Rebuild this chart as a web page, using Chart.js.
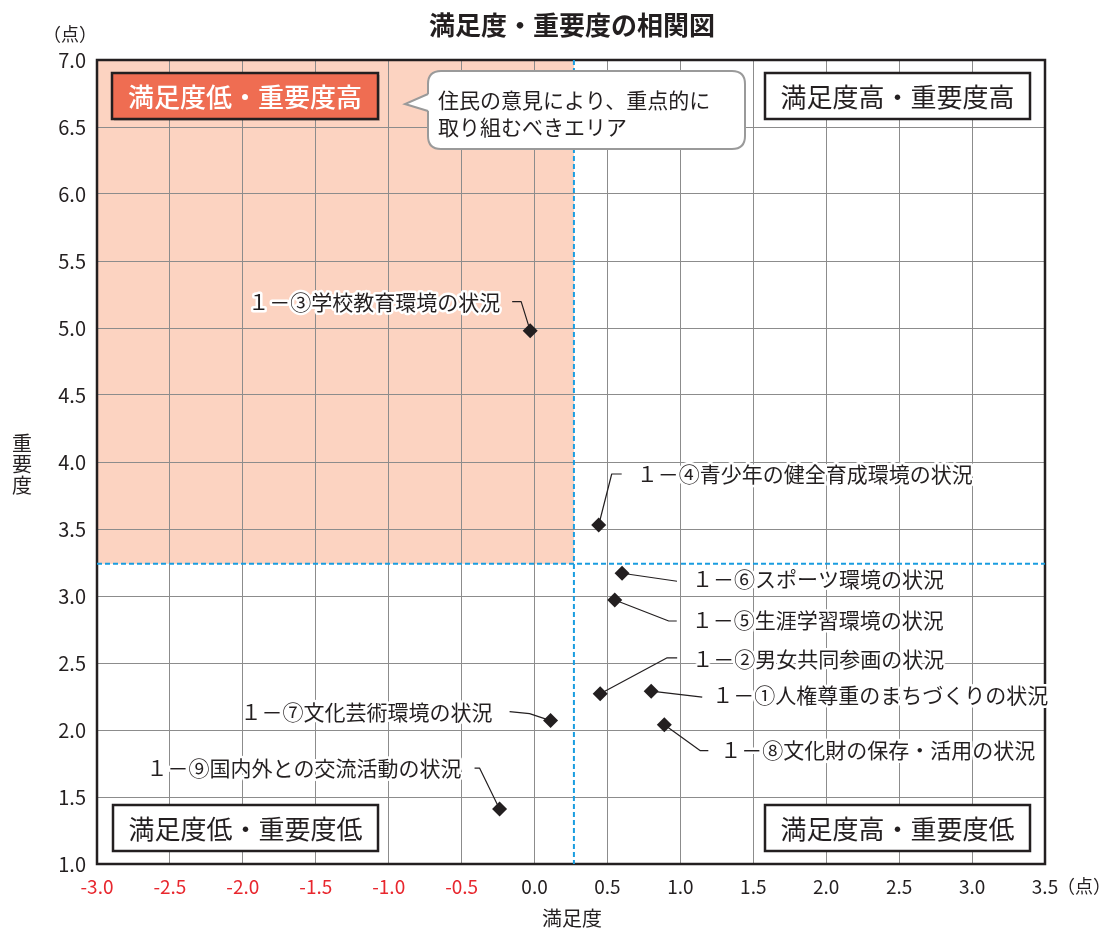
<!DOCTYPE html>
<html lang="ja">
<head>
<meta charset="utf-8">
<title>満足度・重要度の相関図</title>
<script src="https://cdn.jsdelivr.net/npm/chart.js@4.4.1/dist/chart.umd.min.js"></script>
<style>
  html, body { margin: 0; padding: 0; background: #fff; }
  #wrap { width: 1102px; height: 933px; }
</style>
</head>
<body>
<div id="wrap"><canvas id="myChart" width="1102" height="933"></canvas></div>
<script>
'use strict'

// items 1-1 .. 1-9
const itemNames = [
  '１－①人権尊重のまちづくりの状況',
  '１－②男女共同参画の状況',
  '１－③学校教育環境の状況',
  '１－④青少年の健全育成環境の状況',
  '１－⑤生涯学習環境の状況',
  '１－⑥スポーツ環境の状況',
  '１－⑦文化芸術環境の状況',
  '１－⑧文化財の保存・活用の状況',
  '１－⑨国内外との交流活動の状況'
];
const satisfaction = [0.80, 0.45, -0.03, 0.44, 0.55, 0.60, 0.11, 0.89, -0.24];
const importance = [2.29, 2.27, 4.98, 3.53, 2.97, 3.17, 2.07, 2.04, 1.41];

const avgSatisfaction = 0.27;
const avgImportance = 3.24;

const xTicks = [-3.0, -2.5, -2.0, -1.5, -1.0, -0.5, 0.0, 0.5, 1.0, 1.5, 2.0, 2.5, 3.0, 3.5];
const yTicks = [1.0, 1.5, 2.0, 2.5, 3.0, 3.5, 4.0, 4.5, 5.0, 5.5, 6.0, 6.5, 7.0];

const quadrantLabels = ['満足度低・重要度高', '満足度高・重要度高', '満足度低・重要度低', '満足度高・重要度低'];
const calloutLines = ['住民の意見により、重点的に', '取り組むべきエリア'];

// label placement, pixel offsets from each point (text anchor + leader line)
const labelLayout = [
  { tx: 61, ty: 4, align: 'left', path: [[0, 0], [51, 6]] },
  { tx: 92, ty: -35, align: 'left', path: [[0, 0], [67, -36], [77, -36]] },
  { tx: -30, ty: -29, align: 'right', path: [[-18, -29], [-9, -29], [0, 0]] },
  { tx: 38, ty: -51, align: 'left', path: [[23, -51], [13, -51], [0, 0]] },
  { tx: 77, ty: 20, align: 'left', path: [[0, 0], [54, 21], [62, 21]] },
  { tx: 70, ty: 6, align: 'left', path: [[0, 0], [55, 8]] },
  { tx: -58, ty: -9, align: 'right', path: [[-41, -9], [-21, -7], [0, 0]] },
  { tx: 56, ty: 25, align: 'left', path: [[0, 0], [36, 26], [44, 26]] },
  { tx: -38, ty: -41, align: 'right', path: [[-25, -41], [-20, -41], [0, 0]] }
];

const FONT = '"Noto Sans CJK JP", "Noto Sans", sans-serif';

function roundRect(ctx, x, y, w, h, r){
  ctx.beginPath();
  ctx.moveTo(x + r, y);
  ctx.lineTo(x + w - r, y);
  ctx.quadraticCurveTo(x + w, y, x + w, y + r);
  ctx.lineTo(x + w, y + h - r);
  ctx.quadraticCurveTo(x + w, y + h, x + w - r, y + h);
  ctx.lineTo(x + r, y + h);
  ctx.quadraticCurveTo(x, y + h, x, y + h - r);
  ctx.lineTo(x, y + r);
  ctx.quadraticCurveTo(x, y, x + r, y);
  ctx.closePath();
}

function drawBox(ctx, x, y, w, h, text, fill, color){
  ctx.save();
  if (fill === '#ef6d52'){
    ctx.fillStyle = 'rgba(0,0,0,0.15)';
    ctx.fillRect(x + 2, y + 2, w, h);
  }
  ctx.fillStyle = fill;
  ctx.fillRect(x, y, w, h);
  ctx.lineWidth = 2.5;
  ctx.strokeStyle = '#231f20';
  ctx.strokeRect(x, y, w, h);
  ctx.fillStyle = color;
  ctx.font = (fill === '#ef6d52' ? '500 ' : '400 ') + '26px ' + FONT;
  ctx.textAlign = 'center';
  ctx.textBaseline = 'middle';
  ctx.fillText(text, x + w / 2, y + h / 2 + 1);
  ctx.restore();
}

const quadrantPlugin = {
  id: 'quadrants',
  beforeDraw(chart){
    const ctx = chart.ctx;
    const xs = chart.scales.x;
    const ys = chart.scales.y;
    const area = chart.chartArea;
    ctx.save();
    ctx.fillStyle = '#fff';
    ctx.fillRect(0, 0, chart.width, chart.height);
    // priority area
    const ax = xs.getPixelForValue(avgSatisfaction);
    const ay = ys.getPixelForValue(avgImportance);
    ctx.fillStyle = '#fcd3c1';
    ctx.fillRect(area.left, area.top, ax - area.left, ay - area.top);
    ctx.restore();
  },
  beforeDatasetsDraw(chart){
    const ctx = chart.ctx;
    const xs = chart.scales.x;
    const ys = chart.scales.y;
    const area = chart.chartArea;
    const ax = xs.getPixelForValue(avgSatisfaction);
    const ay = ys.getPixelForValue(avgImportance);
    ctx.save();
    // frame
    ctx.strokeStyle = '#231f20';
    ctx.lineWidth = 2.5;
    ctx.strokeRect(area.left, area.top, area.right - area.left, area.bottom - area.top);
    // average lines
    ctx.strokeStyle = '#1a9de0';
    ctx.lineWidth = 2;
    ctx.setLineDash([5, 3]);
    ctx.beginPath();
    ctx.moveTo(ax, area.top);
    ctx.lineTo(ax, area.bottom);
    ctx.moveTo(area.left, ay);
    ctx.lineTo(area.right, ay);
    ctx.stroke();
    ctx.setLineDash([]);

    // quadrant boxes
    drawBox(ctx, area.left + 15, area.top + 13, 266, 46, quadrantLabels[0], '#ef6d52', '#fff');
    drawBox(ctx, area.right - 280, area.top + 13, 265, 46, quadrantLabels[1], '#fff', '#231f20');
    drawBox(ctx, area.left + 16, area.bottom - 59, 265, 46, quadrantLabels[2], '#fff', '#231f20');
    drawBox(ctx, area.right - 280, area.bottom - 59, 265, 46, quadrantLabels[3], '#fff', '#231f20');

    // callout bubble
    const bx = 428, by = 71, bw = 317, bh = 78;
    ctx.fillStyle = '#fff';
    ctx.strokeStyle = '#9a9a9a';
    ctx.lineWidth = 2;
    roundRect(ctx, bx, by, bw, bh, 13);
    ctx.fill();
    ctx.stroke();
    ctx.beginPath();
    ctx.moveTo(bx + 1, by + 23);
    ctx.lineTo(405, 104);
    ctx.lineTo(bx + 1, by + 40);
    ctx.closePath();
    ctx.fill();
    ctx.beginPath();
    ctx.moveTo(bx, by + 23);
    ctx.lineTo(405, 104);
    ctx.lineTo(bx, by + 40);
    ctx.stroke();
    ctx.fillStyle = '#231f20';
    ctx.font = '21px ' + FONT;
    ctx.textAlign = 'left';
    ctx.textBaseline = 'middle';
    ctx.fillText(calloutLines[0], 438, 100);
    ctx.fillText(calloutLines[1], 438, 127);

    // leader lines and labels
    ctx.font = '21px ' + FONT;
    ctx.textBaseline = 'middle';
    for (let i = 0; i < itemNames.length; i++){
      const px = xs.getPixelForValue(satisfaction[i]);
      const py = ys.getPixelForValue(importance[i]);
      const lay = labelLayout[i];
      ctx.strokeStyle = '#231f20';
      ctx.lineWidth = 1.2;
      ctx.beginPath();
      lay.path.forEach(function(p, k){
        if (k === 0) ctx.moveTo(px + p[0], py + p[1]);
        else ctx.lineTo(px + p[0], py + p[1]);
      });
      ctx.stroke();
      ctx.textAlign = lay.align;
      ctx.lineJoin = 'round';
      ctx.strokeStyle = '#fff';
      ctx.lineWidth = 5;
      ctx.strokeText(itemNames[i], px + lay.tx, py + lay.ty);
      ctx.fillStyle = '#231f20';
      ctx.fillText(itemNames[i], px + lay.tx, py + lay.ty);
    }
    ctx.restore();
  },
  afterDraw(chart){
    const ctx = chart.ctx;
    const area = chart.chartArea;
    ctx.save();
    ctx.fillStyle = '#231f20';
    ctx.textBaseline = 'middle';
    ctx.textAlign = 'center';
    ctx.font = 'bold 26px ' + FONT;
    ctx.fillText('満足度・重要度の相関図', 572, 25);
    ctx.font = '20px ' + FONT;
    ctx.fillText('満足度', 572, 918);
    ctx.font = '18px ' + FONT;
    ctx.fillText('（点）', 70, 34);
    ctx.textAlign = 'left';
    ctx.fillText('（点）', area.right + 12, 886);
    // vertical axis title
    ctx.textAlign = 'center';
    ctx.font = '20px ' + FONT;
    const vt = '重要度';
    for (let i = 0; i < vt.length; i++){
      ctx.fillText(vt[i], 22, 443 + i * 21);
    }
    ctx.restore();
  }
};

const ctx = document.getElementById('myChart').getContext('2d');

const myChart = new Chart(ctx, {
  type: 'scatter',
  data: {
    datasets: [{
      label: '満足度・重要度',
      data: satisfaction.map(function(v, i){ return { x: v, y: importance[i] }; }),
      pointStyle: 'rectRot',
      pointRadius: 7.5,
      pointHoverRadius: 7.5,
      backgroundColor: '#231f20',
      borderColor: '#231f20',
      borderWidth: 0
    }]
  },
  options: {
    responsive: false,
    animation: false,
    devicePixelRatio: 1,
    layout: { padding: { top: 60, right: 57, bottom: 0, left: 0 } },
    plugins: {
      legend: { display: false },
      tooltip: { enabled: false },
      title: { display: false }
    },
    scales: {
      x: {
        type: 'linear',
        min: -3.0,
        max: 3.5,
        afterFit(scale){ scale.height = 69; },
        afterBuildTicks(scale){ scale.ticks = xTicks.map(function(v){ return { value: v }; }); },
        grid: { color: '#8c8c8c', lineWidth: 1, drawTicks: false },
        border: { display: false },
        ticks: {
          padding: 11,
          font: { family: FONT, size: 19 },
          color(c){ return c.tick && c.tick.value < 0 ? '#e8272e' : '#231f20'; },
          callback(v){ return Number(v).toFixed(1); }
        }
      },
      y: {
        type: 'linear',
        min: 1.0,
        max: 7.0,
        afterFit(scale){ scale.width = 97; },
        afterBuildTicks(scale){ scale.ticks = yTicks.map(function(v){ return { value: v }; }); },
        grid: { color: '#8c8c8c', lineWidth: 1, drawTicks: false },
        border: { display: false },
        ticks: {
          padding: 11,
          font: { family: FONT, size: 20 },
          color: '#231f20',
          callback(v){ return Number(v).toFixed(1); }
        }
      }
    }
  },
  plugins: [quadrantPlugin]
});
</script>
</body>
</html>
